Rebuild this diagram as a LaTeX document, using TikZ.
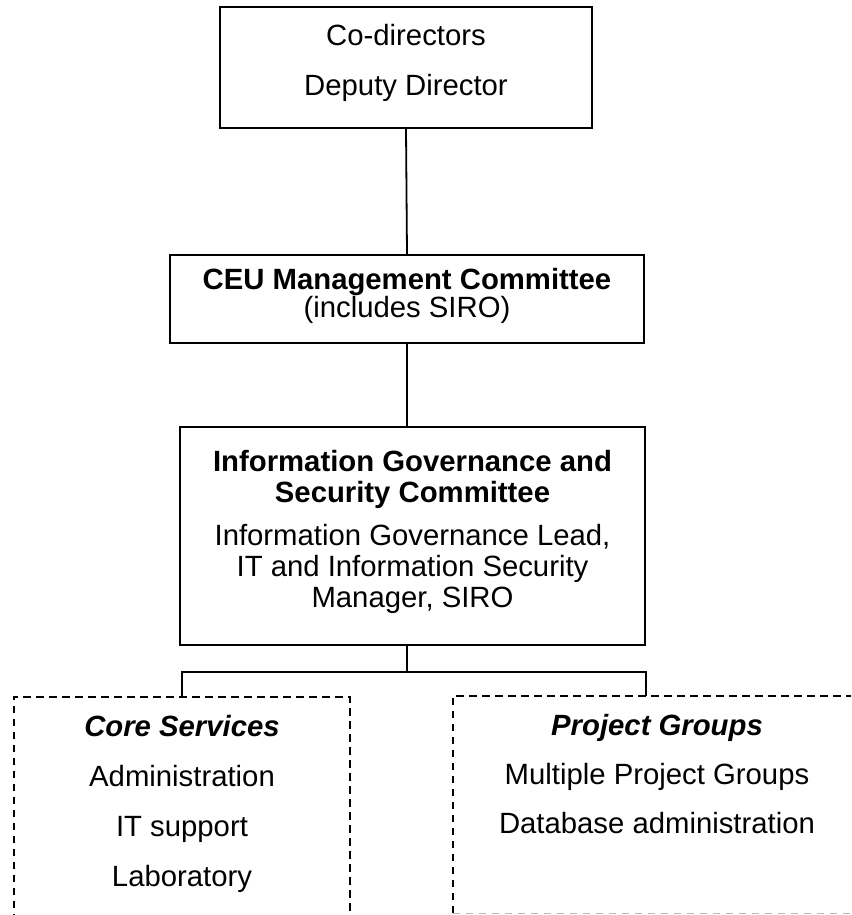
\documentclass[tikz,border=0pt]{standalone}
\usepackage{fontspec}
\setmainfont{Liberation Sans}
\usetikzlibrary{positioning}

\tikzset{
  orgbox/.style={draw, line width=1.8pt, inner sep=0pt},
  dashframe/.style={line width=1.8pt, dash pattern=on 7.5pt off 5.5pt},
  txt/.style={align=center, inner sep=0pt, font=\fontsize{29.3}{32}\selectfont},
  link/.style={line width=1.8pt}
}

\begin{document}
\begin{tikzpicture}[x=1pt,y=1pt,line cap=butt,line join=miter]
  \useasboundingbox (0,0) rectangle (851,-915);
  \clip (0,0) rectangle (851,-915);
  % directors
  \node[orgbox, minimum width=372pt, minimum height=121pt] (dirs) at (406,-67.5) {};
  \node[txt, below=18pt of dirs.north] (dirsText) {Co-directors\\[18pt]Deputy Director};
  % management committee
  \node[orgbox, minimum width=474pt, minimum height=88pt] (mgmt) at (407,-299) {};
  \node[txt, font=\fontsize{29.3}{24}\selectfont, below=14pt of mgmt.north] (mgmtText)
    {\textbf{CEU Management Committee}\\(includes SIRO)};
  % governance committee
  \node[orgbox, minimum width=465pt, minimum height=218pt] (igsc) at (412.5,-536) {};
  \node[txt, font=\fontsize{29.3}{31}\selectfont, below=24pt of igsc.north] (igscText)
    {\textbf{Information Governance and}\\\textbf{Security Committee}\\[12pt]
     Information Governance Lead,\\IT and Information Security\\Manager, SIRO};
  % core services and project groups
  \node[inner sep=0pt, minimum width=336pt, minimum height=263pt] (core) at (182,-828.5) {};
  \draw[dashframe] (core.south west) rectangle (core.north east);
  \node[txt, below=18pt of core.north] (coreText)
    {\textbf{\textit{Core Services}}\\[18pt]Administration\\[18pt]IT support\\[18pt]Laboratory};
  \node[inner sep=0pt, minimum width=408pt, minimum height=217pt] (proj) at (657,-804.5) {};
  \draw[dashframe] (proj.south west) -- (proj.north west) -- (proj.north east) -- (proj.south east);
  \draw[dashframe, line width=1pt, gray!55] (proj.south west) -- (proj.south east);
  \node[txt, below=18pt of proj.north] (projText)
    {\textbf{\textit{Project Groups}}\\[17pt]Multiple Project Groups\\[17pt]Database administration};
  % connectors
  \coordinate (split) at (407,-672);
  \coordinate (projDrop) at (646,-696);
  \draw[link] (dirs.south) -- (mgmt.north);
  \draw[link] (mgmt.south) -- (igsc.north -| mgmt.south);
  \draw[link] (igsc.south -| split) -- (split);
  \draw[link] (core.north) |- (split) -| (projDrop);
\end{tikzpicture}
\end{document}
